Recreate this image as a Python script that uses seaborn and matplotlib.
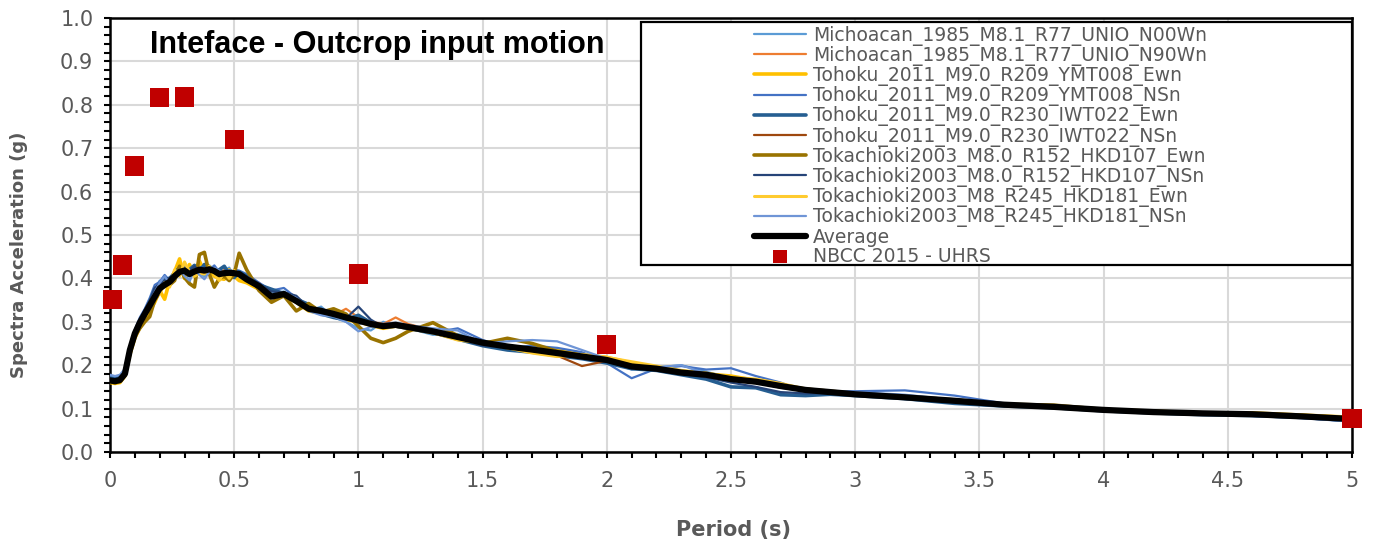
import numpy as np
import pandas as pd
import matplotlib
matplotlib.use("Agg")
import matplotlib.pyplot as plt
from matplotlib.patches import Rectangle
from matplotlib.ticker import MultipleLocator
import seaborn as sns

# ---------------------------------------------------------------- data
period = [0.00, 0.02, 0.04, 0.06, 0.08, 0.10, 0.12, 0.14, 0.16, 0.18,
          0.20, 0.22, 0.24, 0.26, 0.28, 0.30, 0.32, 0.34, 0.36, 0.38,
          0.40, 0.42, 0.44, 0.46, 0.48, 0.50, 0.52, 0.55, 0.60, 0.65,
          0.70, 0.75, 0.80, 0.85, 0.90, 0.95, 1.00, 1.05, 1.10, 1.15,
          1.20, 1.30, 1.40, 1.50, 1.60, 1.70, 1.80, 1.90, 2.00, 2.10,
          2.20, 2.30, 2.40, 2.50, 2.60, 2.70, 2.80, 2.90, 3.00, 3.20,
          3.40, 3.60, 3.80, 4.00, 4.20, 4.40, 4.60, 4.80, 5.00]

michoacan_n00wn = [0.175, 0.172, 0.175, 0.188, 0.240, 0.280, 0.305, 0.325, 0.350, 0.372,
                   0.395, 0.380, 0.398, 0.400, 0.428, 0.415, 0.392, 0.425, 0.412, 0.405,
                   0.430, 0.420, 0.415, 0.418, 0.425, 0.405, 0.400, 0.395, 0.380, 0.365,
                   0.370, 0.345, 0.325, 0.335, 0.310, 0.300, 0.285, 0.280, 0.300, 0.290,
                   0.285, 0.270, 0.272, 0.255, 0.245, 0.240, 0.232, 0.222, 0.210, 0.190,
                   0.195, 0.200, 0.185, 0.170, 0.160, 0.148, 0.140, 0.138, 0.134, 0.128,
                   0.120, 0.112, 0.103, 0.096, 0.093, 0.090, 0.085, 0.080, 0.074]
michoacan_n90wn = [0.168, 0.165, 0.168, 0.182, 0.232, 0.270, 0.295, 0.318, 0.338, 0.362,
                   0.380, 0.390, 0.385, 0.410, 0.412, 0.425, 0.415, 0.410, 0.425, 0.420,
                   0.418, 0.422, 0.405, 0.420, 0.410, 0.415, 0.405, 0.398, 0.390, 0.360,
                   0.362, 0.352, 0.335, 0.320, 0.315, 0.330, 0.310, 0.300, 0.295, 0.310,
                   0.295, 0.280, 0.262, 0.250, 0.245, 0.238, 0.225, 0.215, 0.208, 0.200,
                   0.190, 0.182, 0.175, 0.170, 0.165, 0.150, 0.142, 0.137, 0.132, 0.125,
                   0.117, 0.108, 0.103, 0.098, 0.092, 0.088, 0.086, 0.081, 0.075]
tohoku_r209_ewn = [0.160, 0.158, 0.160, 0.175, 0.225, 0.262, 0.288, 0.305, 0.325, 0.345,
                   0.372, 0.352, 0.395, 0.415, 0.445, 0.400, 0.432, 0.405, 0.440, 0.415,
                   0.420, 0.405, 0.400, 0.398, 0.420, 0.405, 0.395, 0.390, 0.375, 0.358,
                   0.360, 0.345, 0.325, 0.320, 0.312, 0.305, 0.300, 0.292, 0.285, 0.290,
                   0.285, 0.275, 0.262, 0.250, 0.240, 0.232, 0.235, 0.225, 0.218, 0.205,
                   0.195, 0.185, 0.180, 0.175, 0.165, 0.155, 0.145, 0.138, 0.133, 0.127,
                   0.118, 0.108, 0.105, 0.098, 0.094, 0.090, 0.090, 0.085, 0.080]
tohoku_r209_nsn = [0.172, 0.170, 0.172, 0.188, 0.242, 0.282, 0.310, 0.330, 0.355, 0.385,
                   0.392, 0.408, 0.395, 0.398, 0.420, 0.430, 0.405, 0.418, 0.425, 0.428,
                   0.420, 0.430, 0.415, 0.405, 0.405, 0.420, 0.418, 0.410, 0.390, 0.372,
                   0.378, 0.355, 0.338, 0.322, 0.325, 0.318, 0.295, 0.300, 0.290, 0.295,
                   0.292, 0.275, 0.285, 0.258, 0.240, 0.245, 0.240, 0.230, 0.205, 0.170,
                   0.192, 0.198, 0.190, 0.193, 0.175, 0.160, 0.138, 0.140, 0.140, 0.142,
                   0.130, 0.112, 0.104, 0.095, 0.090, 0.088, 0.083, 0.078, 0.070]
tohoku_r230_ewn = [0.170, 0.168, 0.170, 0.185, 0.238, 0.275, 0.298, 0.322, 0.345, 0.375,
                   0.385, 0.398, 0.400, 0.412, 0.425, 0.410, 0.420, 0.430, 0.415, 0.432,
                   0.425, 0.415, 0.420, 0.428, 0.410, 0.402, 0.415, 0.405, 0.385, 0.375,
                   0.365, 0.352, 0.340, 0.318, 0.310, 0.305, 0.315, 0.298, 0.288, 0.290,
                   0.285, 0.275, 0.260, 0.245, 0.235, 0.230, 0.222, 0.215, 0.205, 0.192,
                   0.188, 0.178, 0.168, 0.150, 0.148, 0.132, 0.130, 0.133, 0.130, 0.123,
                   0.112, 0.106, 0.102, 0.095, 0.090, 0.086, 0.084, 0.080, 0.072]
tohoku_r230_nsn = [0.166, 0.164, 0.166, 0.180, 0.235, 0.272, 0.298, 0.318, 0.338, 0.358,
                   0.375, 0.388, 0.390, 0.402, 0.420, 0.418, 0.412, 0.415, 0.422, 0.418,
                   0.425, 0.415, 0.412, 0.410, 0.415, 0.410, 0.408, 0.402, 0.380, 0.360,
                   0.362, 0.348, 0.330, 0.328, 0.320, 0.312, 0.305, 0.298, 0.292, 0.295,
                   0.290, 0.282, 0.268, 0.252, 0.245, 0.238, 0.222, 0.198, 0.210, 0.195,
                   0.190, 0.185, 0.180, 0.172, 0.160, 0.150, 0.142, 0.138, 0.132, 0.125,
                   0.118, 0.110, 0.105, 0.098, 0.092, 0.088, 0.087, 0.082, 0.076]
tokachi_r152_ewn = [0.162, 0.160, 0.162, 0.176, 0.228, 0.265, 0.285, 0.300, 0.312, 0.350,
                    0.368, 0.392, 0.385, 0.395, 0.428, 0.402, 0.388, 0.380, 0.455, 0.460,
                    0.410, 0.380, 0.400, 0.405, 0.395, 0.410, 0.458, 0.420, 0.372, 0.345,
                    0.360, 0.325, 0.342, 0.322, 0.330, 0.318, 0.290, 0.262, 0.252, 0.262,
                    0.278, 0.298, 0.268, 0.250, 0.262, 0.250, 0.232, 0.222, 0.215, 0.200,
                    0.192, 0.185, 0.178, 0.170, 0.162, 0.150, 0.145, 0.140, 0.135, 0.128,
                    0.120, 0.110, 0.108, 0.098, 0.092, 0.090, 0.088, 0.084, 0.078]
tokachi_r152_nsn = [0.168, 0.166, 0.168, 0.183, 0.238, 0.278, 0.305, 0.328, 0.348, 0.378,
                    0.388, 0.395, 0.402, 0.408, 0.415, 0.425, 0.418, 0.428, 0.418, 0.425,
                    0.418, 0.425, 0.412, 0.410, 0.418, 0.408, 0.412, 0.405, 0.388, 0.370,
                    0.368, 0.360, 0.332, 0.330, 0.315, 0.308, 0.335, 0.305, 0.288, 0.292,
                    0.290, 0.280, 0.262, 0.245, 0.240, 0.235, 0.225, 0.215, 0.208, 0.195,
                    0.188, 0.180, 0.172, 0.160, 0.150, 0.138, 0.135, 0.135, 0.133, 0.122,
                    0.116, 0.108, 0.103, 0.096, 0.091, 0.088, 0.085, 0.080, 0.073]
tokachi_r245_ewn = [0.163, 0.161, 0.163, 0.178, 0.232, 0.270, 0.295, 0.312, 0.335, 0.358,
                    0.365, 0.390, 0.380, 0.420, 0.405, 0.438, 0.415, 0.405, 0.412, 0.410,
                    0.428, 0.410, 0.395, 0.415, 0.400, 0.418, 0.405, 0.395, 0.382, 0.355,
                    0.362, 0.350, 0.328, 0.325, 0.318, 0.310, 0.305, 0.298, 0.292, 0.290,
                    0.287, 0.275, 0.258, 0.252, 0.240, 0.228, 0.220, 0.225, 0.218, 0.208,
                    0.198, 0.188, 0.182, 0.172, 0.168, 0.158, 0.145, 0.138, 0.134, 0.127,
                    0.119, 0.110, 0.105, 0.098, 0.093, 0.090, 0.089, 0.085, 0.079]
tokachi_r245_nsn = [0.178, 0.175, 0.178, 0.192, 0.240, 0.278, 0.302, 0.322, 0.345, 0.368,
                    0.390, 0.405, 0.388, 0.410, 0.420, 0.405, 0.395, 0.420, 0.408, 0.398,
                    0.415, 0.425, 0.418, 0.408, 0.420, 0.415, 0.405, 0.395, 0.385, 0.362,
                    0.368, 0.355, 0.325, 0.315, 0.312, 0.300, 0.278, 0.288, 0.295, 0.298,
                    0.292, 0.285, 0.280, 0.250, 0.255, 0.258, 0.255, 0.235, 0.215, 0.195,
                    0.195, 0.200, 0.180, 0.165, 0.160, 0.150, 0.140, 0.140, 0.138, 0.132,
                    0.120, 0.112, 0.102, 0.095, 0.090, 0.088, 0.083, 0.078, 0.071]
average = [0.165, 0.163, 0.166, 0.180, 0.235, 0.273, 0.298, 0.318, 0.338, 0.358,
           0.377, 0.385, 0.392, 0.405, 0.415, 0.418, 0.410, 0.416, 0.420, 0.418,
           0.421, 0.417, 0.410, 0.412, 0.413, 0.412, 0.410, 0.398, 0.382, 0.358,
           0.364, 0.348, 0.330, 0.325, 0.318, 0.310, 0.303, 0.295, 0.290, 0.293,
           0.288, 0.278, 0.265, 0.252, 0.243, 0.236, 0.228, 0.220, 0.212, 0.197,
           0.192, 0.183, 0.178, 0.168, 0.162, 0.152, 0.143, 0.138, 0.133, 0.126,
           0.118, 0.109, 0.104, 0.097, 0.092, 0.089, 0.087, 0.082, 0.076]

nbcc_period = [0.01, 0.05, 0.1, 0.2, 0.3, 0.5, 1.0, 2.0, 5.0]
nbcc_sa = [0.352, 0.431, 0.659, 0.816, 0.818, 0.721, 0.410, 0.247, 0.078]

record_names = ["Michoacan_1985_M8.1_R77_UNIO_N00Wn",
                "Michoacan_1985_M8.1_R77_UNIO_N90Wn",
                "Tohoku_2011_M9.0_R209_YMT008_Ewn",
                "Tohoku_2011_M9.0_R209_YMT008_NSn",
                "Tohoku_2011_M9.0_R230_IWT022_Ewn",
                "Tohoku_2011_M9.0_R230_IWT022_NSn",
                "Tokachioki2003_M8.0_R152_HKD107_Ewn",
                "Tokachioki2003_M8.0_R152_HKD107_NSn",
                "Tokachioki2003_M8_R245_HKD181_Ewn",
                "Tokachioki2003_M8_R245_HKD181_NSn"]
record_values = [michoacan_n00wn, michoacan_n90wn, tohoku_r209_ewn, tohoku_r209_nsn,
                 tohoku_r230_ewn, tohoku_r230_nsn, tokachi_r152_ewn, tokachi_r152_nsn,
                 tokachi_r245_ewn, tokachi_r245_nsn]
record_colors = ["#5B9BD5", "#ED7D31", "#FFC000", "#4472C4", "#255E91",
                 "#9E480E", "#997300", "#264478", "#FFCB2F", "#6F95D6"]
record_widths = [1.6, 1.6, 2.6, 1.6, 2.6, 1.6, 2.6, 1.6, 2.2, 1.6]

# ---------------------------------------------------------------- style
sns.set_style("white")
plt.rcParams["font.family"] = ["DejaVu Sans"]

grey = "#595959"

fig = plt.figure(figsize=(13.73, 5.41), dpi=100)
ax = fig.add_axes([110 / 1373, 89 / 541, 1242 / 1373, 434 / 541])

long_df = pd.DataFrame({
    "Period": np.tile(period, len(record_names)),
    "Sa": np.concatenate(record_values),
    "Record": np.repeat(record_names, len(period)),
})

for name, color, lw in zip(record_names, record_colors, record_widths):
    sub = long_df[long_df["Record"] == name]
    sns.lineplot(data=sub, x="Period", y="Sa", color=color, lw=lw,
                 label=name, ax=ax, zorder=3)

sns.lineplot(x=period, y=average, color="black", lw=4.5, label="Average",
             ax=ax, zorder=4, solid_capstyle="round")

sns.scatterplot(x=nbcc_period, y=nbcc_sa, marker="s", s=190, color="#C00000",
                edgecolor="none", label="NBCC 2015 - UHRS", ax=ax, zorder=5,
                clip_on=False)

# ---------------------------------------------------------------- axes
ax.set_xlim(0, 5)
ax.set_ylim(0, 1.0)
ax.xaxis.set_minor_locator(MultipleLocator(0.1))
ax.yaxis.set_minor_locator(MultipleLocator(0.02))
ax.set_xticks(np.arange(0, 5.01, 0.5))
ax.set_xticklabels(["0", "0.5", "1", "1.5", "2", "2.5", "3", "3.5", "4", "4.5", "5"])
ax.set_yticks(np.arange(0, 1.01, 0.1))
ax.set_yticklabels([f"{v:.1f}" for v in np.arange(0, 1.01, 0.1)])

ax.grid(True, which="major", color="#D9D9D9", lw=1.5)
ax.set_axisbelow(True)
for sp in ax.spines.values():
    sp.set_color("black")
    sp.set_linewidth(1.8)

ax.tick_params(which="both", direction="out", color="black", width=1.5,
               length=4, bottom=True, left=True)
ax.tick_params(axis="x", which="major", pad=10, labelsize=15, labelcolor=grey)
ax.tick_params(axis="y", which="major", pad=8, labelsize=15, labelcolor=grey)

ax.set_xlabel("")
ax.set_ylabel("")
fig.text(734 / 1373, 1 - 530 / 541, "Period (s)", fontsize=15,
         fontweight="bold", color=grey, ha="center", va="center")
fig.text(19 / 1373, 1 - 255 / 541, "Spectra Acceleration (g)", fontsize=13,
         fontweight="bold", color=grey, ha="center", va="center", rotation=90)

ax.text(0.032, 0.937, "Inteface - Outcrop input motion", transform=ax.transAxes,
        fontsize=22, fontweight="bold", color="black",
        family=["Liberation Sans", "DejaVu Sans"],
        va="center", ha="left", zorder=7)

# ---------------------------------------------------------------- legend
ax.add_patch(Rectangle((0.4275, 0.431), 0.5725, 0.560, transform=ax.transAxes,
                       facecolor="white", edgecolor="black", lw=1.6, zorder=6))
handles, labels = ax.get_legend_handles_labels()
leg = ax.legend(handles, labels, loc="upper left",
                bbox_to_anchor=(0.511, 1.004), frameon=False,
                fontsize=13.5, handlelength=2.77, handletextpad=0.37,
                labelspacing=0.01, borderpad=0.0, markerscale=0.7)
leg.set_zorder(7)
for t in leg.get_texts():
    t.set_color(grey)

fig.savefig("out.png", dpi=100)
